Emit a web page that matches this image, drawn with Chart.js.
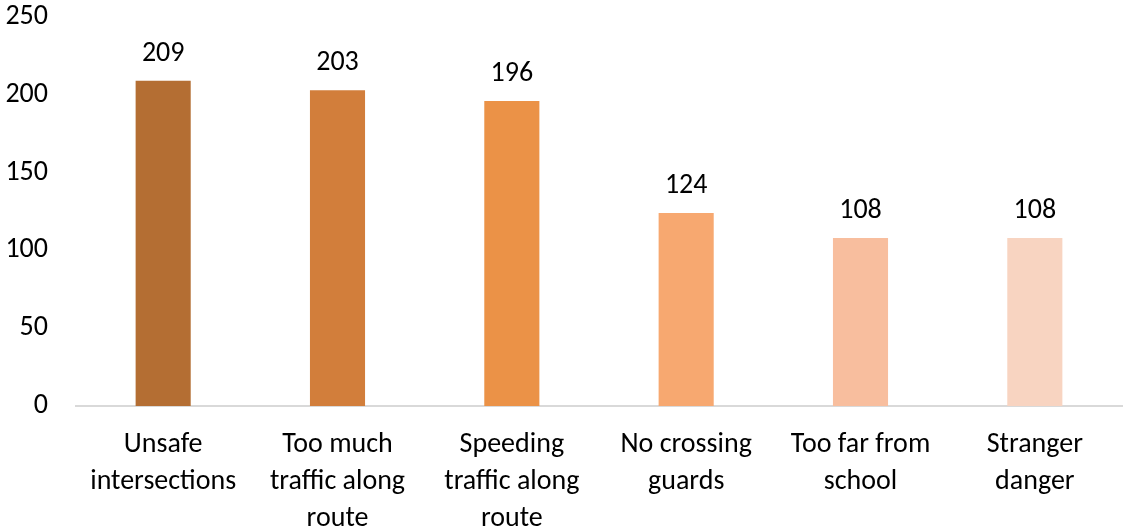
<!DOCTYPE html>
<html>
<head>
<meta charset="utf-8">
<script src="https://cdn.jsdelivr.net/npm/chart.js@4"></script>
<style>
  html, body { margin: 0; padding: 0; background: #fff; }
  #wrap { width: 1124px; height: 532px; position: relative; }
</style>
</head>
<body>
<div id="wrap"><canvas id="chart"></canvas></div>
<script>
const categories = [
    ["Unsafe", "intersections"],
    ["Too much", "traffic along", "route"],
    ["Speeding", "traffic along", "route"],
    ["No crossing", "guards"],
    ["Too far from", "school"],
    ["Stranger", "danger"]
];
const counts = [209, 203, 196, 124, 108, 108];
const barColors = ["#B46E33", "#D27E3B", "#EB9247", "#F7A870", "#F8BE9E", "#F8D4C1"];
const yTicks = [0, 50, 100, 150, 200, 250];

const FONT = "Calibri, Carlito, 'Open Sans', sans-serif";

// draws the value above each bar
const valueLabels = {
    id: "valueLabels",
    afterDatasetsDraw(chart) {
        const ctx = chart.ctx;
        const meta = chart.getDatasetMeta(0);
        ctx.save();
        ctx.font = "28px " + FONT;
        ctx.fillStyle = "#000";
        ctx.textAlign = "center";
        ctx.textBaseline = "alphabetic";
        meta.data.forEach((bar, i) => {
            ctx.fillText(counts[i], bar.x, bar.y - 20);
        });
        ctx.restore();
    }
};

const ctx = document.getElementById("chart").getContext("2d");
new Chart(ctx, {
    type: "bar",
    data: {
        labels: categories,
        datasets: [{
            data: counts,
            backgroundColor: barColors,
            barPercentage: 0.316,
            categoryPercentage: 1
        }]
    },
    options: {
        responsive: true,
        maintainAspectRatio: false,
        animation: false,
        layout: { padding: { top: 0, right: 2, left: 0, bottom: 0 } },
        plugins: {
            legend: { display: false },
            tooltip: { enabled: false }
        },
        scales: {
            x: {
                grid: { display: false, drawTicks: false },
                border: { color: "#D9D9D9", width: 2 },
                afterFit(scale) {
                    scale.height = 126;
                },
                ticks: {
                    color: "#000",
                    font: { family: FONT, size: 28, lineHeight: 1.32 },
                    padding: 21,
                    maxRotation: 0,
                    autoSkip: false
                }
            },
            y: {
                min: 0,
                max: 250,
                afterBuildTicks(scale) {
                    scale.ticks = yTicks.map(v => ({ value: v }));
                },
                afterFit(scale) {
                    scale.width = 76;
                    scale.paddingTop = 17;
                    scale.paddingBottom = 0;
                },
                grid: { display: false, drawTicks: false },
                border: { display: false },
                ticks: {
                    color: "#000",
                    font: { family: FONT, size: 28 },
                    padding: 28
                }
            }
        }
    },
    plugins: [valueLabels]
});
</script>
</body>
</html>
